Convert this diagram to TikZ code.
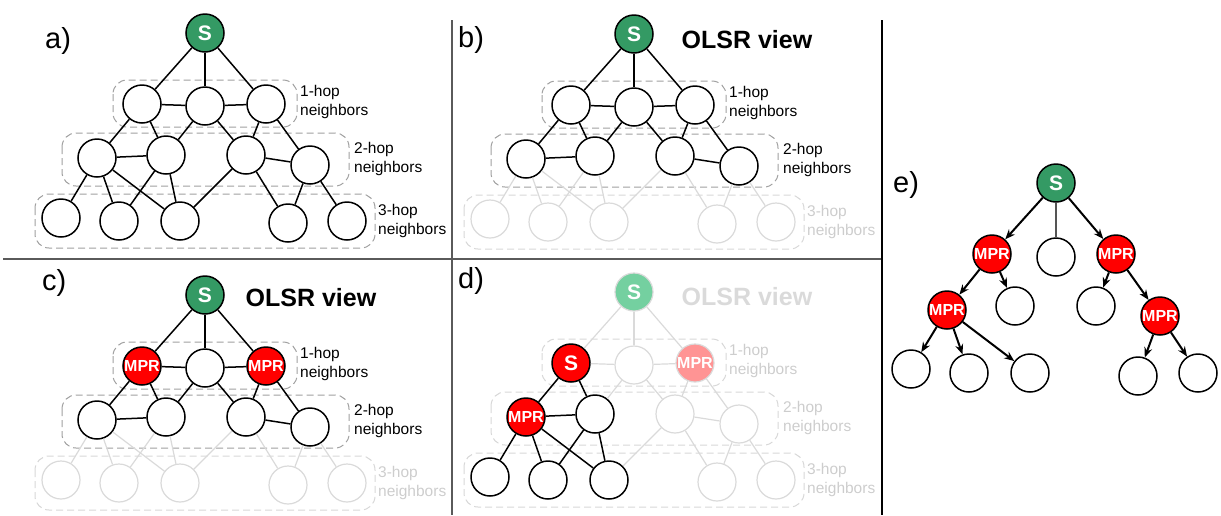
\documentclass[tikz,border=0pt]{standalone}
\usepackage{fontspec}
\setmainfont{Liberation Sans}
\usetikzlibrary{arrows.meta}

\definecolor{srcgreen}{RGB}{52,154,100}
\definecolor{srcghost}{RGB}{116,208,160}
\definecolor{mprred}{RGB}{255,0,0}
\definecolor{mprghost}{RGB}{255,148,148}
\definecolor{ghostline}{RGB}{218,218,218}
\definecolor{boxline}{RGB}{160,160,160}
\definecolor{ghostbox}{RGB}{215,215,215}
\definecolor{ghosttext}{RGB}{205,205,205}
\definecolor{ruleline}{RGB}{90,90,90}
\definecolor{plainline}{RGB}{85,85,85}

\newcommand\fs[1]{\fontsize{#1}{#1}\selectfont}

% node texts, redefined inside the panels that use them
\newcommand\txtS{S}
\newcommand\txtHa{}
\newcommand\txtHc{}
\newcommand\txtTa{}

\tikzset{
  vtx/.style={circle, draw=black, line width=1.5pt, fill=white, minimum size=38pt,
    inner sep=0pt, text=white, font=\bfseries\fs{16}},
  src/.style={vtx, fill=srcgreen, font=\bfseries\fs{21}},
  mpr/.style={vtx, fill=mprred},
  gvtx/.style={vtx, draw=ghostline, line width=1.2pt},
  gsrc/.style={src, draw=ghostline, line width=1.2pt, fill=srcghost},
  gmpr/.style={vtx, draw=ghostline, line width=1.2pt, fill=mprghost},
  link/.style={draw=black, line width=1.5pt},
  glink/.style={draw=ghostline, line width=1.2pt},
  hopbox/.style={draw=boxline, line width=1pt, dash pattern=on 7pt off 4pt, rounded corners=14pt},
  ghopbox/.style={hopbox, draw=ghostbox},
  hoplabel/.style={anchor=west, align=left, font=\fontsize{15.5}{19}\selectfont, text=black, inner sep=0pt},
  ghoplabel/.style={hoplabel, text=ghosttext},
  olsr/.style={font=\bfseries\fs{25}, inner sep=0pt},
  tag/.style={anchor=base west, font=\fs{29}, inner sep=0pt},
  arrowlink/.style={draw=black, line width=2pt, -{Stealth[length=10pt,width=8pt]}},
  plainlink/.style={draw=plainline, line width=1.2pt},
  % default role of each element of a hop graph
  v-S/.style={src}, v-h1/.style={vtx}, v-h2/.style={vtx}, v-h3/.style={vtx},
  v-t1/.style={vtx}, v-t2/.style={vtx}, v-t3/.style={vtx}, v-t4/.style={vtx},
  v-r1/.style={vtx}, v-r2/.style={vtx}, v-r3/.style={vtx}, v-r4/.style={vtx}, v-r5/.style={vtx},
  box-one/.style={hopbox}, box-two/.style={hopbox}, box-three/.style={hopbox},
  lab-one/.style={hoplabel}, lab-two/.style={hoplabel}, lab-three/.style={hoplabel}
}

% source, three rings of neighbours, their dashed groups and captions
\newcommand\hopgraph[1]{%
  \draw[box-one]   (113,80)  rectangle (297,127);
  \draw[box-two]   (62,133)  rectangle (349,186);
  \draw[box-three] (35,194)  rectangle (375,248);
  \node[lab-one]   (#1l1) at (300,102) {1-hop\\neighbors};
  \node[lab-two]   (#1l2) at (354,159) {2-hop\\neighbors};
  \node[lab-three] (#1l3) at (378,221) {3-hop\\neighbors};
  \node[v-S]  (#1S)  at (205,33)  {\txtS};
  \node[v-h1] (#1h1) at (142,104) {\txtHa};
  \node[v-h2] (#1h2) at (205,106) {};
  \node[v-h3] (#1h3) at (266,104) {\txtHc};
  \node[v-t1] (#1t1) at (97,158)  {\txtTa};
  \node[v-t2] (#1t2) at (166,155) {};
  \node[v-t3] (#1t3) at (246,155) {};
  \node[v-t4] (#1t4) at (310,165) {};
  \node[v-r1] (#1r1) at (61,218)  {};
  \node[v-r2] (#1r2) at (119,221) {};
  \node[v-r3] (#1r3) at (180,221) {};
  \node[v-r4] (#1r4) at (288,223) {};
  \node[v-r5] (#1r5) at (347,221) {};
}

\begin{document}
\begin{tikzpicture}[x=1pt, y=-1pt]
\useasboundingbox (0,0) rectangle (1221,515);

% panel rules
\draw[draw=ruleline, line width=1.2pt] (452,20) -- (452,515);
\draw[draw=ruleline, line width=1.2pt] (3,259) -- (883,259);
\draw[draw=black, line width=1.5pt] (882,20) -- (882,515);

% a) full topology
\begin{scope}
  \hopgraph{a}
  \foreach \u/\v in {S/h1,S/h2,S/h3,h1/h2,h2/h3,h1/t1,h1/t2,h2/t2,h2/t3,h3/t3,h3/t4,t1/t2,t3/t4,
                     t1/r1,t1/r2,t1/r3,t2/r2,t2/r3,t3/r3,t3/r4,t4/r4,t4/r5}
    \draw[link] (a\u) -- (a\v);
  \node[tag] (atag) at (45,48) {a)};
\end{scope}

% b) what the source knows
\begin{scope}[shift={(429,1)},
  v-r1/.style={gvtx}, v-r2/.style={gvtx}, v-r3/.style={gvtx}, v-r4/.style={gvtx}, v-r5/.style={gvtx},
  box-three/.style={ghopbox}, lab-three/.style={ghoplabel}]
  \hopgraph{b}
  \foreach \u/\v in {t1/r1,t1/r2,t1/r3,t2/r2,t2/r3,t3/r3,t3/r4,t4/r4,t4/r5}
    \draw[glink] (b\u) -- (b\v);
  \foreach \u/\v in {S/h1,S/h2,S/h3,h1/h2,h2/h3,h1/t1,h1/t2,h2/t2,h2/t3,h3/t3,h3/t4,t1/t2,t3/t4}
    \draw[link] (b\u) -- (b\v);
  \node[olsr] (bolsr) at (318,39) {OLSR view};
\end{scope}
\node[tag] (btag) at (458,47) {b)};

% c) multipoint relays chosen by the source
\begin{scope}[shift={(0,262)},
  v-h1/.style={mpr}, v-h3/.style={mpr},
  v-r1/.style={gvtx}, v-r2/.style={gvtx}, v-r3/.style={gvtx}, v-r4/.style={gvtx}, v-r5/.style={gvtx},
  box-three/.style={ghopbox}, lab-three/.style={ghoplabel}]
  \renewcommand\txtHa{MPR}\renewcommand\txtHc{MPR}
  \hopgraph{c}
  \foreach \u/\v in {t1/r1,t1/r2,t1/r3,t2/r2,t2/r3,t3/r3,t3/r4,t4/r4,t4/r5}
    \draw[glink] (c\u) -- (c\v);
  \foreach \u/\v in {S/h1,S/h2,S/h3,h1/h2,h2/h3,h1/t1,h1/t2,h2/t2,h2/t3,h3/t3,h3/t4,t1/t2,t3/t4}
    \draw[link] (c\u) -- (c\v);
  \node[olsr] (colsr) at (311,36) {OLSR view};
\end{scope}
\node[tag] (ctag) at (42,290) {c)};

% d) the relay repeats the selection from its own view
\begin{scope}[shift={(429,259)},
  v-S/.style={gsrc}, v-h1/.style={mpr}, v-h2/.style={gvtx}, v-h3/.style={gmpr},
  v-t1/.style={mpr}, v-t3/.style={gvtx}, v-t4/.style={gvtx},
  v-r4/.style={gvtx}, v-r5/.style={gvtx},
  box-one/.style={ghopbox}, box-two/.style={ghopbox}, box-three/.style={ghopbox},
  lab-one/.style={ghoplabel}, lab-two/.style={ghoplabel}, lab-three/.style={ghoplabel}]
  \renewcommand\txtHa{\fs{21}S}\renewcommand\txtHc{MPR}\renewcommand\txtTa{MPR}
  \hopgraph{d}
  \foreach \u/\v in {S/h1,S/h2,S/h3,h1/h2,h2/h3,h2/t2,h2/t3,h3/t3,h3/t4,t3/t4,t3/r3,t3/r4,t4/r4,t4/r5}
    \draw[glink] (d\u) -- (d\v);
  \foreach \u/\v in {h1/t1,h1/t2,t1/t2,t1/r1,t1/r2,t1/r3,t2/r2,t2/r3}
    \draw[link] (d\u) -- (d\v);
  \node[olsr, text=ghostline] (dolsr) at (318,38) {OLSR view};
\end{scope}
\node[tag] (dtag) at (458,288) {d)};

% e) resulting relay tree
\node[tag] (etag) at (893,192) {e)};
\node[src] (eS) at (1056,183) {S};
\node[mpr] (eA) at (992,254)  {MPR};
\node[vtx] (eB) at (1056,257) {};
\node[mpr] (eC) at (1116,254) {MPR};
\node[mpr] (eD) at (947,310)  {MPR};
\node[vtx] (eE) at (1015,306) {};
\node[vtx] (eF) at (1096,306) {};
\node[mpr] (eG) at (1160,316) {MPR};
\node[vtx] (eH) at (911,369)  {};
\node[vtx] (eI) at (969,373)  {};
\node[vtx] (eJ) at (1030,373) {};
\node[vtx] (eK) at (1138,376) {};
\node[vtx] (eL) at (1198,373) {};
\draw[plainlink] (eS) -- (eB);
\foreach \u/\v in {S/A,S/C,A/D,A/E,C/F,C/G,D/H,D/I,D/J,G/K,G/L}
  \draw[arrowlink] (e\u) -- (e\v);
\end{tikzpicture}
\end{document}
